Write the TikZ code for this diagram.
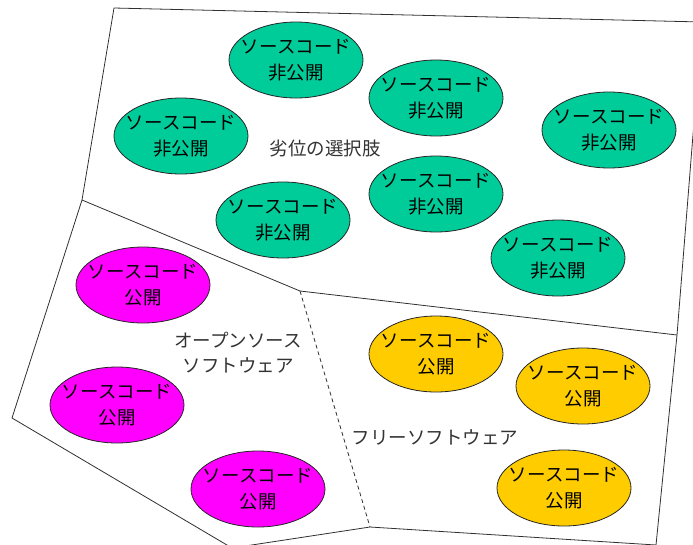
\documentclass[tikz,border=0pt]{standalone}
\usepackage{fontspec}
\setmainfont{Noto Sans CJK JP}
\usetikzlibrary{shapes.geometric}
\definecolor{grn}{HTML}{00CC99}
\definecolor{mag}{HTML}{FF00FF}
\definecolor{yel}{HTML}{FFCC00}
\definecolor{edge}{HTML}{303030}
\newcommand\srclines[1]{\makebox[60pt]{ソースコード}\\\makebox[40pt]{#1}}
\tikzset{
  blob/.style={ellipse, draw=black!85, line width=0.8pt, minimum width=134pt, minimum height=76pt, inner sep=0pt, align=center, font=\fontsize{18.5}{26}\selectfont},
  closed/.style={blob, fill=grn},
  openpub/.style={blob, fill=mag},
  freepub/.style={blob, fill=yel},
  region/.style={align=center, text=black!80, font=\fontsize{18.5}{25}\selectfont},
  border/.style={draw=edge, line width=0.8pt, line join=round}
}
\begin{document}
\begin{tikzpicture}[x=1pt,y=-1pt]
\useasboundingbox (0,0) rectangle (693,544);
\clip (0,0) rectangle (693,544);
\coordinate (A) at (114,8);
\coordinate (B) at (702,22);
\coordinate (C) at (677,335);
\coordinate (D) at (656,545);
\coordinate (E) at (82,200);
\coordinate (F) at (12,418);
\coordinate (G) at (232,548);
\coordinate (H) at (370,527);
\coordinate (I) at (300,291);
\draw[border] (A) -- (B) -- (C) -- (D) -- (H) -- (G) -- (F) -- (E) -- cycle;
\draw[border] (E) -- (I) -- (C);
\draw[border, dashed, dash pattern=on 4pt off 3pt] (I) -- (H);

\node[closed] (g1) at (296,60) {\srclines{非公開}};
\node[closed] (g2) at (181,136) {\srclines{非公開}};
\node[closed] (g3) at (283,220) {\srclines{非公開}};
\node[closed] (g4) at (436,98) {\srclines{非公開}};
\node[closed] (g5) at (609,130) {\srclines{非公開}};
\node[closed] (g6) at (436,194) {\srclines{非公開}};
\node[closed] (g7) at (558,258) {\srclines{非公開}};

\node[openpub] (m1) at (143,285) {\srclines{公開}};
\node[openpub] (m2) at (117,405) {\srclines{公開}};
\node[openpub] (m3) at (258,489) {\srclines{公開}};

\node[freepub] (y1) at (436,354) {\srclines{公開}};
\node[freepub] (y2) at (583,386) {\srclines{公開}};
\node[freepub] (y3) at (564,488) {\srclines{公開}};

\node[region] (lbl1) at (325,148) {劣位の選択肢};
\node[region] (lbl2) at (238,353) {オープンソース\\ソフトウェア};
\node[region] (lbl3) at (435,437) {フリーソフトウェア};
\end{tikzpicture}
\end{document}
